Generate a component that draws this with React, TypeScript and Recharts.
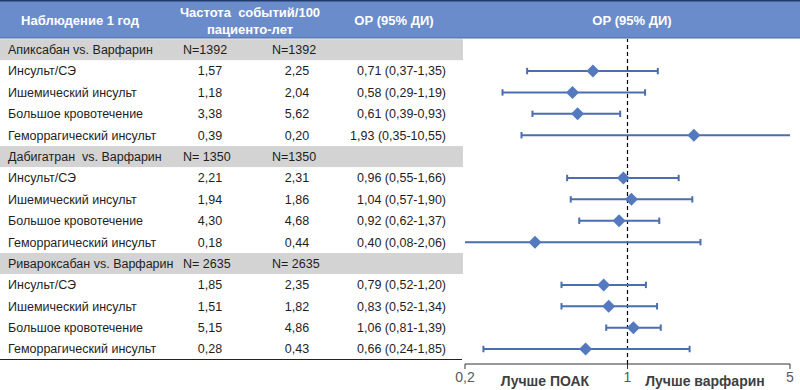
import React from 'react';
import { ScatterChart, Scatter, XAxis, YAxis, ReferenceLine } from 'recharts';

const groupTitles = ['Апиксабан vs. Варфарин', 'Дабигатран\u00a0 vs. Варфарин', 'Ривароксабан vs. Варфарин'];
const groupNDoac = ['N=1392', 'N= 1350', 'N= 2635'];
const groupNWarf = ['N=1392', 'N=1350', 'N= 2635'];
const outcomes = ['Инсульт/СЭ', 'Ишемический инсульт', 'Большое кровотечение', 'Геморрагический инсульт'];
const rateDoac = [
  [1.57, 1.18, 3.38, 0.39],
  [2.21, 1.94, 4.3, 0.18],
  [1.85, 1.51, 5.15, 0.28],
];
const rateWarf = [
  [2.25, 2.04, 5.62, 0.2],
  [2.31, 1.86, 4.68, 0.44],
  [2.35, 1.82, 4.86, 0.43],
];
const hrValues = [
  [0.71, 0.58, 0.61, 1.93],
  [0.96, 1.04, 0.92, 0.4],
  [0.79, 0.83, 1.06, 0.66],
];
const hrLow = [
  [0.37, 0.29, 0.39, 0.35],
  [0.55, 0.57, 0.62, 0.08],
  [0.52, 0.52, 0.81, 0.24],
];
const hrHigh = [
  [1.35, 1.19, 0.93, 10.55],
  [1.66, 1.9, 1.37, 2.06],
  [1.2, 1.34, 1.39, 1.85],
];
const xTicks = [0.2, 1, 5];

const fmt = (v: number) => v.toFixed(2).replace('.', ',');

type Row = {
  row: number;
  type: 'group' | 'item';
  title: string;
  n1?: string;
  n2?: string;
  r1?: number;
  r2?: number;
  hr?: number;
  lo?: number;
  hi?: number;
};

const rows: Row[] = [];
groupTitles.forEach((t, g) => {
  rows.push({ row: rows.length, type: 'group', title: t, n1: groupNDoac[g], n2: groupNWarf[g] });
  outcomes.forEach((o, i) => {
    rows.push({
      row: rows.length,
      type: 'item',
      title: o,
      r1: rateDoac[g][i],
      r2: rateWarf[g][i],
      hr: hrValues[g][i],
      lo: hrLow[g][i],
      hi: hrHigh[g][i],
    });
  });
});
const pointData = rows.filter((r) => r.type === 'item');
const yTicks = rows.map((r) => r.row);

const FONT = '"Liberation Sans", Arial, sans-serif';
const TEXT = '#1e1e1e';
const BAR = '#4A6EAE';
const CAP = 0.15;
const FS = 12.5;

const TableTick = (props: any) => {
  const { y, payload } = props;
  const r = rows[payload.value];
  if (!r) return null;
  if (r.type === 'group') {
    return (
      <g>
        <rect x={0} y={y - 10.5} width={463} height={21} fill="#D3D3D3" />
        <text x={8} y={y} dy="0.35em" fontSize={FS} fill={TEXT} fontFamily={FONT}>{r.title}</text>
        <text x={183} y={y} dy="0.35em" fontSize={FS} fill={TEXT} fontFamily={FONT}>{r.n1}</text>
        <text x={272} y={y} dy="0.35em" fontSize={FS} fill={TEXT} fontFamily={FONT}>{r.n2}</text>
      </g>
    );
  }
  return (
    <g>
      <text x={8} y={y} dy="0.35em" fontSize={FS} fill={TEXT} fontFamily={FONT}>{r.title}</text>
      <text x={210} y={y} dy="0.35em" fontSize={FS} fill={TEXT} fontFamily={FONT} textAnchor="middle">{fmt(r.r1 as number)}</text>
      <text x={297} y={y} dy="0.35em" fontSize={FS} fill={TEXT} fontFamily={FONT} textAnchor="middle">{fmt(r.r2 as number)}</text>
      <text x={446} y={y} dy="0.35em" fontSize={FS} fill={TEXT} fontFamily={FONT} textAnchor="end">
        {`${fmt(r.hr as number)} (${fmt(r.lo as number)}-${fmt(r.hi as number)})`}
      </text>
    </g>
  );
};

const Diamond = (props: any) => {
  const { cx, cy } = props;
  const s = 6.5;
  return <polygon points={`${cx},${cy - s} ${cx + s},${cy} ${cx},${cy + s} ${cx - s},${cy}`} fill="#5479BF" />;
};

export default function App() {
  return (
    <div style={{ position: 'absolute', left: 0, top: 0, width: 800, height: 390, fontFamily: FONT, background: '#fff' }}>
      <ScatterChart width={800} height={390} margin={{ top: 39, right: 10, bottom: 0, left: 0 }}>
        <XAxis
          type="number"
          dataKey="hr"
          scale="log"
          domain={[0.2, 5]}
          ticks={xTicks}
          allowDataOverflow
          height={26}
          tickSize={5}
          tickMargin={3}
          axisLine={{ stroke: '#333' }}
          tickLine={{ stroke: '#333' }}
          tick={{ fill: '#595959', fontSize: 14, fontFamily: FONT }}
          tickFormatter={(v: number) => String(v).replace('.', ',')}
        />
        <YAxis
          type="number"
          dataKey="row"
          domain={[-0.5, 14.7]}
          reversed
          ticks={yTicks}
          interval={0}
          width={465}
          axisLine={false}
          tickLine={false}
          tick={<TableTick />}
          allowDataOverflow
        />
        <ReferenceLine x={1} stroke="#000" strokeDasharray="4 3" strokeWidth={1.2} />
        {pointData.map((d) => (
          <ReferenceLine
            key={`ci-${d.row}`}
            segment={[{ x: d.lo, y: d.row }, { x: d.hi, y: d.row }]}
            stroke={BAR}
            strokeWidth={2}
            ifOverflow="hidden"
          />
        ))}
        {pointData.map((d) => (
          <ReferenceLine
            key={`lo-${d.row}`}
            segment={[{ x: d.lo, y: d.row - CAP }, { x: d.lo, y: d.row + CAP }]}
            stroke={BAR}
            strokeWidth={2}
            ifOverflow="hidden"
          />
        ))}
        {pointData.map((d) => (
          <ReferenceLine
            key={`hi-${d.row}`}
            segment={[{ x: d.hi, y: d.row - CAP }, { x: d.hi, y: d.row + CAP }]}
            stroke={BAR}
            strokeWidth={2}
            ifOverflow="hidden"
          />
        ))}
        <Scatter data={pointData} shape={<Diamond />} isAnimationActive={false} fill="#5479BF" />
      </ScatterChart>
      <svg width={800} height={390} style={{ position: 'absolute', left: 0, top: 0, pointerEvents: 'none' }}>
        <rect x={0} y={0} width={800} height={38} fill="#6B8CCB" />
        <line x1={0} x2={800} y1={0.75} y2={0.75} stroke="#1F3A6E" strokeWidth={1.5} />
        <line x1={0} x2={800} y1={38} y2={38} stroke="#4A69A6" strokeWidth={1} />
        <line x1={0} x2={462} y1={359.5} y2={359.5} stroke="#222" strokeWidth={1.2} />
        <text x={80} y={20} dy="0.35em" textAnchor="middle" fill="#fff" fontWeight="bold" fontSize={13} fontFamily={FONT}>Наблюдение 1 год</text>
        <text x={250} y={12} dy="0.35em" textAnchor="middle" fill="#fff" fontWeight="bold" fontSize={13} fontFamily={FONT} style={{ whiteSpace: 'pre' }}>{'Частота  событий/100'}</text>
        <text x={250} y={29} dy="0.35em" textAnchor="middle" fill="#fff" fontWeight="bold" fontSize={13} fontFamily={FONT}>пациенто-лет</text>
        <text x={394} y={20} dy="0.35em" textAnchor="middle" fill="#fff" fontWeight="bold" fontSize={13} fontFamily={FONT}>ОР (95% ДИ)</text>
        <text x={632} y={20} dy="0.35em" textAnchor="middle" fill="#fff" fontWeight="bold" fontSize={13} fontFamily={FONT}>ОР (95% ДИ)</text>
        <text x={545} y={381} dy="0.35em" textAnchor="middle" fill="#404040" fontWeight="bold" fontSize={14} fontFamily={FONT}>Лучше ПОАК</text>
        <text x={705} y={381} dy="0.35em" textAnchor="middle" fill="#404040" fontWeight="bold" fontSize={14} fontFamily={FONT}>Лучше варфарин</text>
      </svg>
    </div>
  );
}
